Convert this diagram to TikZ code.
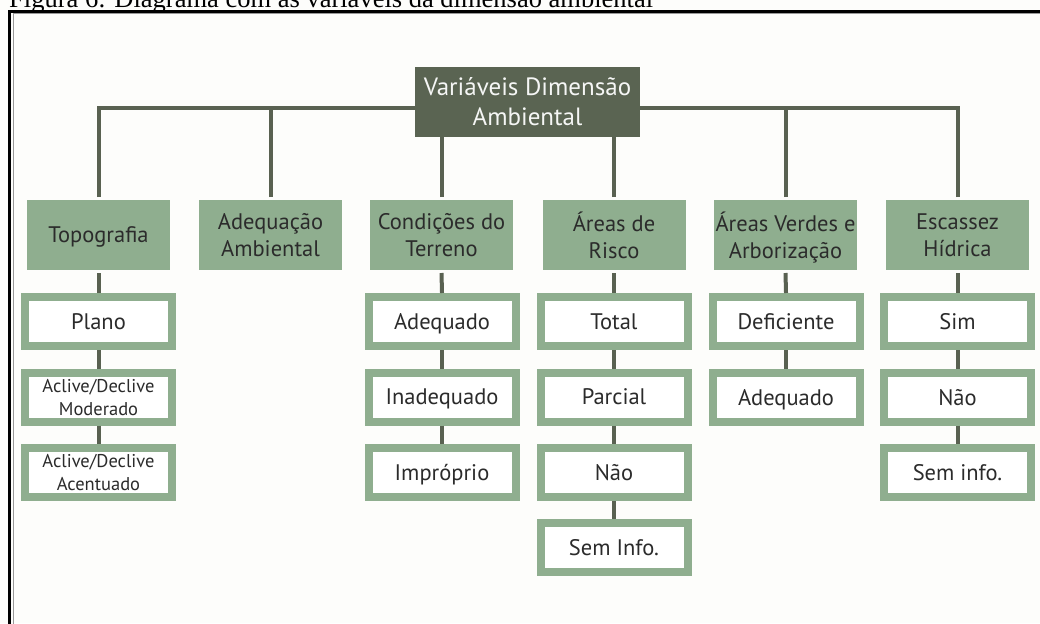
\documentclass[tikz,border=0pt]{standalone}
\usepackage{fontspec}
\setmainfont{PT Sans}
\newfontfamily\capfont{Liberation Serif}
\usepackage{xcolor}
\usepackage{tikz}
\definecolor{bgpaper}{HTML}{FDFDFB}
\definecolor{darkgreen}{HTML}{5A6452}
\definecolor{softgreen}{HTML}{8FAE8F}
\definecolor{linegreen}{HTML}{596151}
\definecolor{inkgray}{HTML}{2B2B2B}
\tikzset{
    rootbox/.style={fill=darkgreen, text=white!94!darkgreen, minimum width=225pt, minimum height=70pt, align=center, inner sep=0pt, font=\fontsize{25}{30}\selectfont},
    catbox/.style={fill=softgreen, text=inkgray, minimum width=143pt, minimum height=70pt, align=center, inner sep=0pt, outer sep=3pt, text depth=0pt, font=\fontsize{22.5}{26.5}\selectfont},
    itembox/.style={draw=softgreen, line width=8pt, fill=white, text=inkgray, minimum width=147pt, minimum height=49pt, align=center, inner sep=0pt, text depth=0pt, font=\fontsize{22.5}{27}\selectfont},
    smallitem/.style={itembox, font=\fontsize{18.5}{23}\selectfont},
    link/.style={draw=linegreen, line width=4pt}
}

\begin{document}
\begin{tikzpicture}[x=1pt, y=-1pt]
    	\useasboundingbox (0,0) rectangle (1040,623);
    	\fill[bgpaper] (0,0) rectangle (1040,623);
    	% caption and frame
    	\node[anchor=base west, inner sep=0pt, font=\capfont\fontsize{26.5}{30}\selectfont] (caption) at (9,8) {Figura 6: Diagrama com as variáveis da dimensão ambiental};
    	\draw[black!40, line width=1pt] (13,650) -- (13,14) -- (1060,14);
    	\draw[black, line width=3.5pt] (9.5,650) -- (9.5,11.5) -- (1060,11.5);
    	% top
    	\node[rootbox] (vars) at (527.5,102) {Variáveis Dimensão\\Ambiental};
    	\coordinate (bus) at (0,108);
    	% categories
    	\node[catbox] (topo) at (98.5,235) {Topografia};
    	\node[catbox] (adeq) at (270.5,235) {Adequação\\Ambiental};
    	\node[catbox] (cond) at (441.5,235) {Condições do\\Terreno};
    	\node[catbox] (risco) at (614,235) {Áreas de\\Risco};
    	\node[catbox] (verdes) at (785.5,235) {Áreas Verdes e\\Arborização};
    	\node[catbox] (escassez) at (957.5,235) {Escassez\\Hídrica};
    	% items
    	\node[itembox] (plano) at (98.5,321.5) {Plano};
    	\node[smallitem] (moderado) at (98.5,397) {Aclive/Declive\\Moderado};
    	\node[smallitem] (acentuado) at (98.5,472.5) {Aclive/Declive\\Acentuado};
    	\node[itembox] (adequado) at (442,321.5) {Adequado};
    	\node[itembox] (inadequado) at (442,397) {Inadequado};
    	\node[itembox] (improprio) at (442,472.5) {Impróprio};
    	\node[itembox] (total) at (614,321.5) {Total};
    	\node[itembox] (parcial) at (614,397) {Parcial};
    	\node[itembox] (naorisco) at (614,472.5) {Não};
    	\node[itembox] (seminfo) at (614,547.5) {Sem Info.};
    	\node[itembox] (deficiente) at (786,321.5) {Deficiente};
    	\node[itembox] (adequadoav) at (786,397) {Adequado};
    	\node[itembox] (sim) at (957.5,321.5) {Sim};
    	\node[itembox] (naoesc) at (957.5,397) {Não};
    	\node[itembox] (seminfoesc) at (957.5,472.5) {Sem info.};
    	% links
    	\draw[link] (topo.north) |- (vars.west |- bus);
    	\draw[link] (escassez.north) |- (vars.east |- bus);
    	\draw[link] (adeq.north) -- (adeq.north |- bus);
    	\draw[link] (verdes.north) -- (verdes.north |- bus);
    	\draw[link] (cond.north) -- (cond.north |- vars.south);
    	\draw[link] (risco.north) -- (risco.north |- vars.south);
    	\draw[link] (topo.south) -- (plano.north);
    	\draw[link] (plano.south) -- (moderado.north);
    	\draw[link] (moderado.south) -- (acentuado.north);
    	\draw[link] (cond.south) -- (adequado.north);
    	\draw[link] (adequado.south) -- (inadequado.north);
    	\draw[link] (inadequado.south) -- (improprio.north);
    	\draw[link] (risco.south) -- (total.north);
    	\draw[link] (total.south) -- (parcial.north);
    	\draw[link] (parcial.south) -- (naorisco.north);
    	\draw[link] (naorisco.south) -- (seminfo.north);
    	\draw[link] (verdes.south) -- (deficiente.north);
    	\draw[link] (deficiente.south) -- (adequadoav.north);
    	\draw[link] (escassez.south) -- (sim.north);
    	\draw[link] (sim.south) -- (naoesc.north);
    	\draw[link] (naoesc.south) -- (seminfoesc.north);
\end{tikzpicture}
\end{document}
